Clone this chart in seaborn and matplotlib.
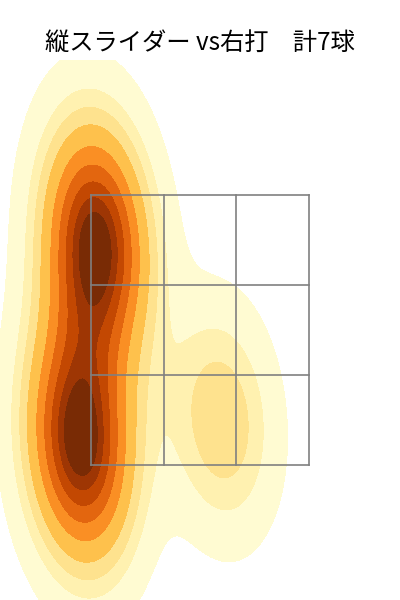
import numpy as np
import pandas as pd
import seaborn as sns
import matplotlib.pyplot as plt

# pitch locations (plate_x, plate_z), 7 pitches
plate_x = [-0.78, -0.76, -0.80, -0.92, -0.88, -0.90, 0.16]
plate_z = [3.40, 3.15, 2.90, 1.90, 1.40, 1.65, 1.83]

zone_x = [-0.82, -0.273, 0.273, 0.82]
zone_z = [1.5, 2.167, 2.833, 3.5]

title = "縦スライダー vs右打　計7球"

df = pd.DataFrame({"x": plate_x, "z": plate_z})

fig = plt.figure(figsize=(4, 6), dpi=100)
ax = fig.add_axes([0, 0, 1, 0.9])
sns.kdeplot(data=df, x="x", y="z", fill=True, cmap="YlOrBr", ax=ax)

for v in zone_x:
    ax.plot([v, v], [zone_z[0], zone_z[-1]], color="gray", lw=1.2)
for h in zone_z:
    ax.plot([zone_x[0], zone_x[-1]], [h, h], color="gray", lw=1.2)

ax.set_xlim(-1.5, 1.5)
ax.set_ylim(0.5, 4.5)
ax.axis("off")
fig.suptitle(title, y=0.95, fontsize=17.5, family=["Noto Sans CJK JP", "DejaVu Sans"])
fig.savefig("out.png", dpi=100)
